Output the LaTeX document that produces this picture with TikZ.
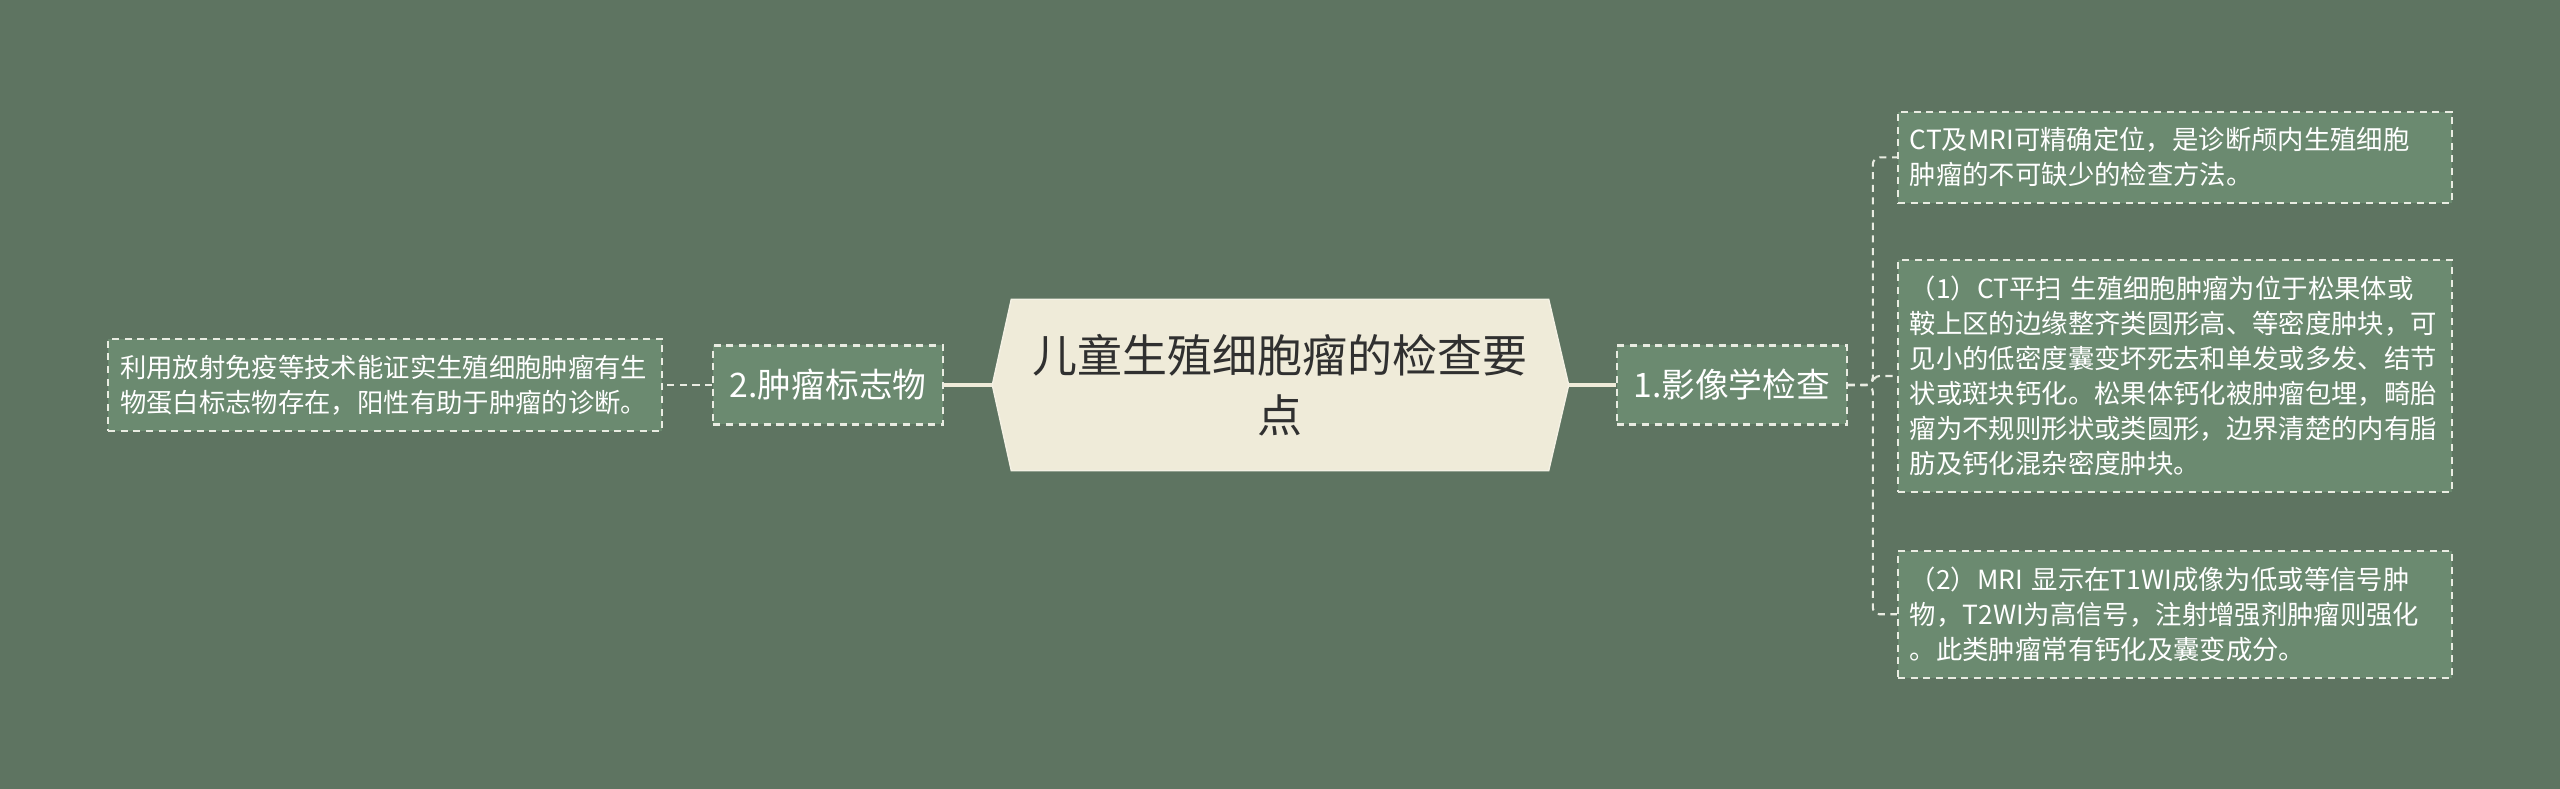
\documentclass[tikz,border=0pt]{standalone}
\usepackage{fontspec}
\setmainfont{Noto Sans CJK SC}
\usepackage{xcolor}
\usetikzlibrary{positioning}
\pgfdeclarelayer{background}
\pgfsetlayers{background,main}
\definecolor{bgGreen}{HTML}{5E7461}
\definecolor{boxGreen}{HTML}{6B8A70}
\definecolor{cream}{HTML}{EFEBD9}
\definecolor{dashWhite}{HTML}{E9ECE2}
\definecolor{darkText}{HTML}{303030}

\begin{document}
\begin{tikzpicture}
        [
        mainline/.style = {draw=cream, line width=1pt},
        leafline/.style = {draw=dashWhite, line width=0.6pt, dash pattern=on 2pt off 1.6pt, rounded corners=2pt},
        mainbox/.style = {text=darkText, align=center, minimum width=5.36cm, minimum height=1.7cm, font=\fontsize{12.8}{17}\selectfont},
        topic/.style = {draw=dashWhite, line width=0.6pt, dash pattern=on 2pt off 1.6pt, fill=boxGreen, text=white, font=\fontsize{9.6}{11}\selectfont, minimum width=2.3cm, minimum height=0.79cm, inner sep=0pt},
        leaf/.style = {draw=dashWhite, line width=0.6pt, dash pattern=on 2pt off 1.6pt, fill=boxGreen, text=white, text width=5.3cm, align=left, inner xsep=0.12cm, inner ysep=0.16cm, font=\fontsize{7.5}{9.95}\selectfont}
        ]
    \node[mainbox] (main) at (0,0) {儿童生殖细胞瘤的检查要\\点};
    \coordinate[left=0.19cm of main.west] (mainL);
    \coordinate[right=0.2cm of main.east] (mainR);

    \node[topic, right=0.47cm of mainR] (n1) {1.影像学检查};
    \node[topic, left=0.48cm of mainL] (n2) {2.肿瘤标志物};

    \node[leaf, right=0.49cm of n1, yshift=0.09cm] (l2) {（1）CT平扫 生殖细胞肿瘤为位于松果体或\\鞍上区的边缘整齐类圆形高、等密度肿块，可\\见小的低密度囊变坏死去和单发或多发、结节\\状或斑块钙化。松果体钙化被肿瘤包埋，畸胎\\瘤为不规则形状或类圆形，边界清楚的内有脂\\肪及钙化混杂密度肿块。};
    \node[leaf, above=0.55cm of l2.north west, anchor=south west] (l1) {CT及MRI可精确定位，是诊断颅内生殖细胞\\肿瘤的不可缺少的检查方法。};
    \node[leaf, below=0.57cm of l2.south west, anchor=north west] (l3) {（2）MRI 显示在T1WI成像为低或等信号肿\\物，T2WI为高信号，注射增强剂肿瘤则强化\\。此类肿瘤常有钙化及囊变成分。};
    \node[leaf, left=0.49cm of n2] (ll) {利用放射免疫等技术能证实生殖细胞肿瘤有生\\物蛋白标志物存在，阳性有助于肿瘤的诊断。};

    \begin{pgfonlayer}{background}
        \fill[bgGreen] (-12.8,3.85) rectangle (12.8,-4.04);
        \fill[cream, draw=cream!70!white] (main.north west) -- (main.north east) -- (mainR) -- (main.south east) -- (main.south west) -- (mainL) -- cycle;
    \end{pgfonlayer}

    \draw[mainline] (mainR) -- (n1);
    \draw[mainline] (mainL) -- (n2);
    \draw[leafline] (n1.east) -- ++(0.25,0) |- (l1.west);
    \draw[leafline] (n1.east) -- ++(0.25,0) |- (l2.west);
    \draw[leafline] (n1.east) -- ++(0.25,0) |- (l3.west);
    \draw[leafline] (n2.west) -- (ll.east);
\end{tikzpicture}
\end{document}
